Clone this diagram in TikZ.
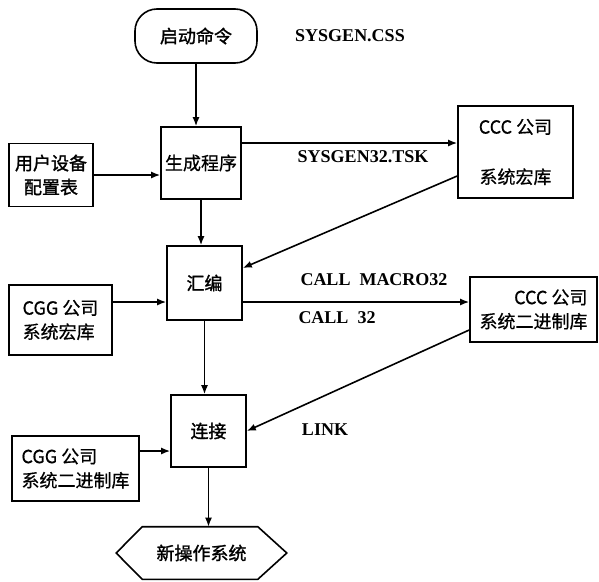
\documentclass[tikz,border=0pt]{standalone}
\usepackage{fontspec}
\setmainfont{Liberation Serif}
\newfontfamily\cjk[FakeBold=0.6]{Noto Sans CJK SC}
\newfontfamily\cjkb[FakeBold=1.5]{Noto Sans CJK SC}
\usetikzlibrary{arrows.meta,shapes.misc}
\begin{document}
\begin{tikzpicture}[x=1pt,y=-1pt,line width=1.6pt,
  box/.style={draw,rectangle,inner sep=2pt,font=\cjk\fontsize{18}{24}\selectfont},
  boldbox/.style={box,font=\cjkb\fontsize{18}{24}\selectfont},
  arr/.style={-{Latex[length=9pt,width=7pt]}},
  lab/.style={font=\bfseries\fontsize{18}{22}\selectfont,inner sep=0pt}]
\useasboundingbox (0,0) rectangle (599,581);
% nodes
\node[boldbox,rounded corners=22pt,minimum width=122pt,minimum height=54pt] (start) at (196,36) {启动命令};
\node[lab] (css) at (350,36) {SYSGEN.CSS};
\node[box,minimum width=80pt,minimum height=72pt] (gen) at (201,163) {生成程序};
\node[boldbox,minimum width=84pt,minimum height=63pt,align=center] (user) at (51,175) {用户设备\\配置表};
\node[box,minimum width=115pt,minimum height=92pt,align=center] (ccc1) at (515.5,152) {CCC 公司\\[26pt]系统宏库};
\node[lab] (tsk) at (363,157) {SYSGEN32.TSK};
\node[boldbox,minimum width=75pt,minimum height=74pt] (asm) at (204.5,283) {汇编};
\node[box,minimum width=103pt,minimum height=70pt,align=left] (cgg1) at (60.5,320) {CGG 公司\\系统宏库};
\node[box,minimum width=127pt,minimum height=65pt,align=right,inner sep=4pt] (ccc2) at (533.5,309.5) {CCC 公司\\系统二进制库};
\node[lab] (macro) at (374,280) {CALL\ \ MACRO32};
\node[lab] (call) at (337,318) {CALL\ \ 32};
\node[boldbox,minimum width=75pt,minimum height=72pt] (link) at (208.5,431) {连接};
\node[box,minimum width=127pt,minimum height=65pt,align=left] (cgg2) at (75.5,468.5) {CGG 公司\\系统二进制库};
\node[lab] (lnk) at (325,430) {LINK};
\node[font=\cjkb\fontsize{18}{24}\selectfont,minimum width=169pt,minimum height=51pt,inner sep=0pt] (hex) at (201.5,553) {新操作系统};
\draw (hex.west) -- ([xshift=26pt]hex.north west) -- ([xshift=-29pt]hex.north east) -- (hex.east)
  -- ([xshift=-29pt]hex.south east) -- ([xshift=26pt]hex.south west) -- cycle;
% connectors
\draw[arr] (start.south) -- (start.south |- gen.north);
\draw[arr] (user.east) -- (user.east -| gen.west);
\draw[arr] ([yshift=20pt]gen.east) coordinate (p1) -- (p1 -| ccc1.west);
\draw[arr] ([yshift=-24pt]ccc1.west) -- ([yshift=15pt]asm.east);
\draw[arr] (gen.south) -- (gen.south |- asm.north);
\draw[arr] ([yshift=18pt]cgg1.east) coordinate (p2) -- (p2 -| asm.west);
\draw[arr] ([yshift=-19pt]asm.east) coordinate (p3) -- (p3 -| ccc2.west);
\draw[arr] ([yshift=-20.5pt]ccc2.west) -- (link.east);
\draw[arr] (asm.south) -- (asm.south |- link.north);
\draw[arr] ([yshift=17.5pt]cgg2.east) coordinate (p4) -- (p4 -| link.west);
\draw[arr] (link.south) -- (link.south |- hex.north);
\end{tikzpicture}
\end{document}
